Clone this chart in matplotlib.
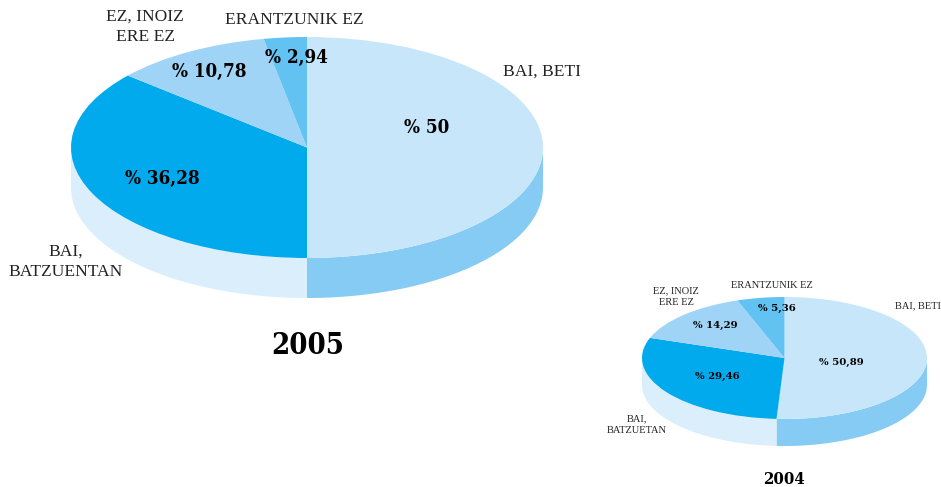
import numpy as np
import matplotlib
matplotlib.use('Agg')
import matplotlib.pyplot as plt

W, H = 941, 487

# data
values_2005 = [50, 36.28, 10.78, 2.94]
values_2004 = [50.89, 29.46, 14.29, 5.36]
value_text_2005 = ['% 50', '% 36,28', '% 10,78', '% 2,94']
value_text_2004 = ['% 50,89', '% 29,46', '% 14,29', '% 5,36']
names_2005 = ['BAI, BETI', 'BAI,\nBATZUENTAN', 'EZ, INOIZ\nERE EZ', 'ERANTZUNIK EZ']
names_2004 = ['BAI, BETI', 'BAI,\nBATZUETAN', 'EZ, INOIZ\nERE EZ', 'ERANTZUNIK EZ']

top_colors = ['#C8E6F9', '#00AAEC', '#A0D4F6', '#62C2F2']
side_colors = ['#86CBF4', '#DBEEFC', '#A0D4F6', '#62C2F2']

fig = plt.figure(figsize=(W / 100, H / 100), dpi=100, facecolor='white')


def tx(x, y, s, size, bold=False, stretch='condensed'):
    # x, y in picture pixels
    fig.text(x / W, 1 - y / H, s, ha='center', va='center', fontsize=size,
             family='DejaVu Serif' if bold else 'Liberation Serif',
             stretch=stretch if bold else 'normal',
             weight='bold' if bold else 'normal', color='black' if bold else '#222222',
             linespacing=1.4)


def pie3d(vals, cx, cy, rx, ry, depth):
    ax = fig.add_axes([(cx - rx) / W, 1 - (cy + ry + depth) / H, 2 * rx / W, (2 * ry + depth) / H])
    d = depth / ry
    # side wall, only the front half shows
    ends = np.cumsum(vals) / np.sum(vals) * 360
    starts = np.r_[0, ends[:-1]]
    for a, b, c in zip(starts, ends, side_colors):
        a, b = max(a, 90), min(b, 270)
        if b <= a:
            continue
        t = np.radians(np.linspace(a, b, 100))
        x, y = np.sin(t), np.cos(t)
        ax.fill(np.r_[x, x[::-1]], np.r_[y, y[::-1] - d], color=c, lw=0)
    wedges, _ = ax.pie(vals, colors=top_colors, startangle=90, counterclock=False, radius=1,
                       wedgeprops={'linewidth': 0})
    ax.set_aspect('auto')
    ax.set_xlim(-1, 1)
    ax.set_ylim(-1 - d, 1)
    ax.axis('off')
    return ax


pie3d(values_2005, 307, 147.5, 236, 110.5, 40)
pie3d(values_2004, 784.5, 358, 142.5, 61, 27)

# 2005 labels
for (x, y), s in zip([(427, 128), (162, 179), (209, 72), (296, 58)], value_text_2005):
    tx(x, y, s, 13.5, True)
for (x, y), s in zip([(542, 72), (66, 262), (145, 27), (294, 20)], names_2005):
    tx(x, y, s, 12.6)
tx(308, 345, '2005', 21, True)

# 2004 labels
for (x, y), s in zip([(841, 362.5), (717, 376.5), (715, 325.5), (777, 308.5)], value_text_2004):
    tx(x, y, s, 7.3, True, 'normal')
for (x, y), s in zip([(918, 306), (637, 425), (676, 297), (772, 285.5)], names_2004):
    tx(x, y, s, 7.5)
tx(784, 479.5, '2004', 12, True)

fig.savefig('out.png', dpi=100)
